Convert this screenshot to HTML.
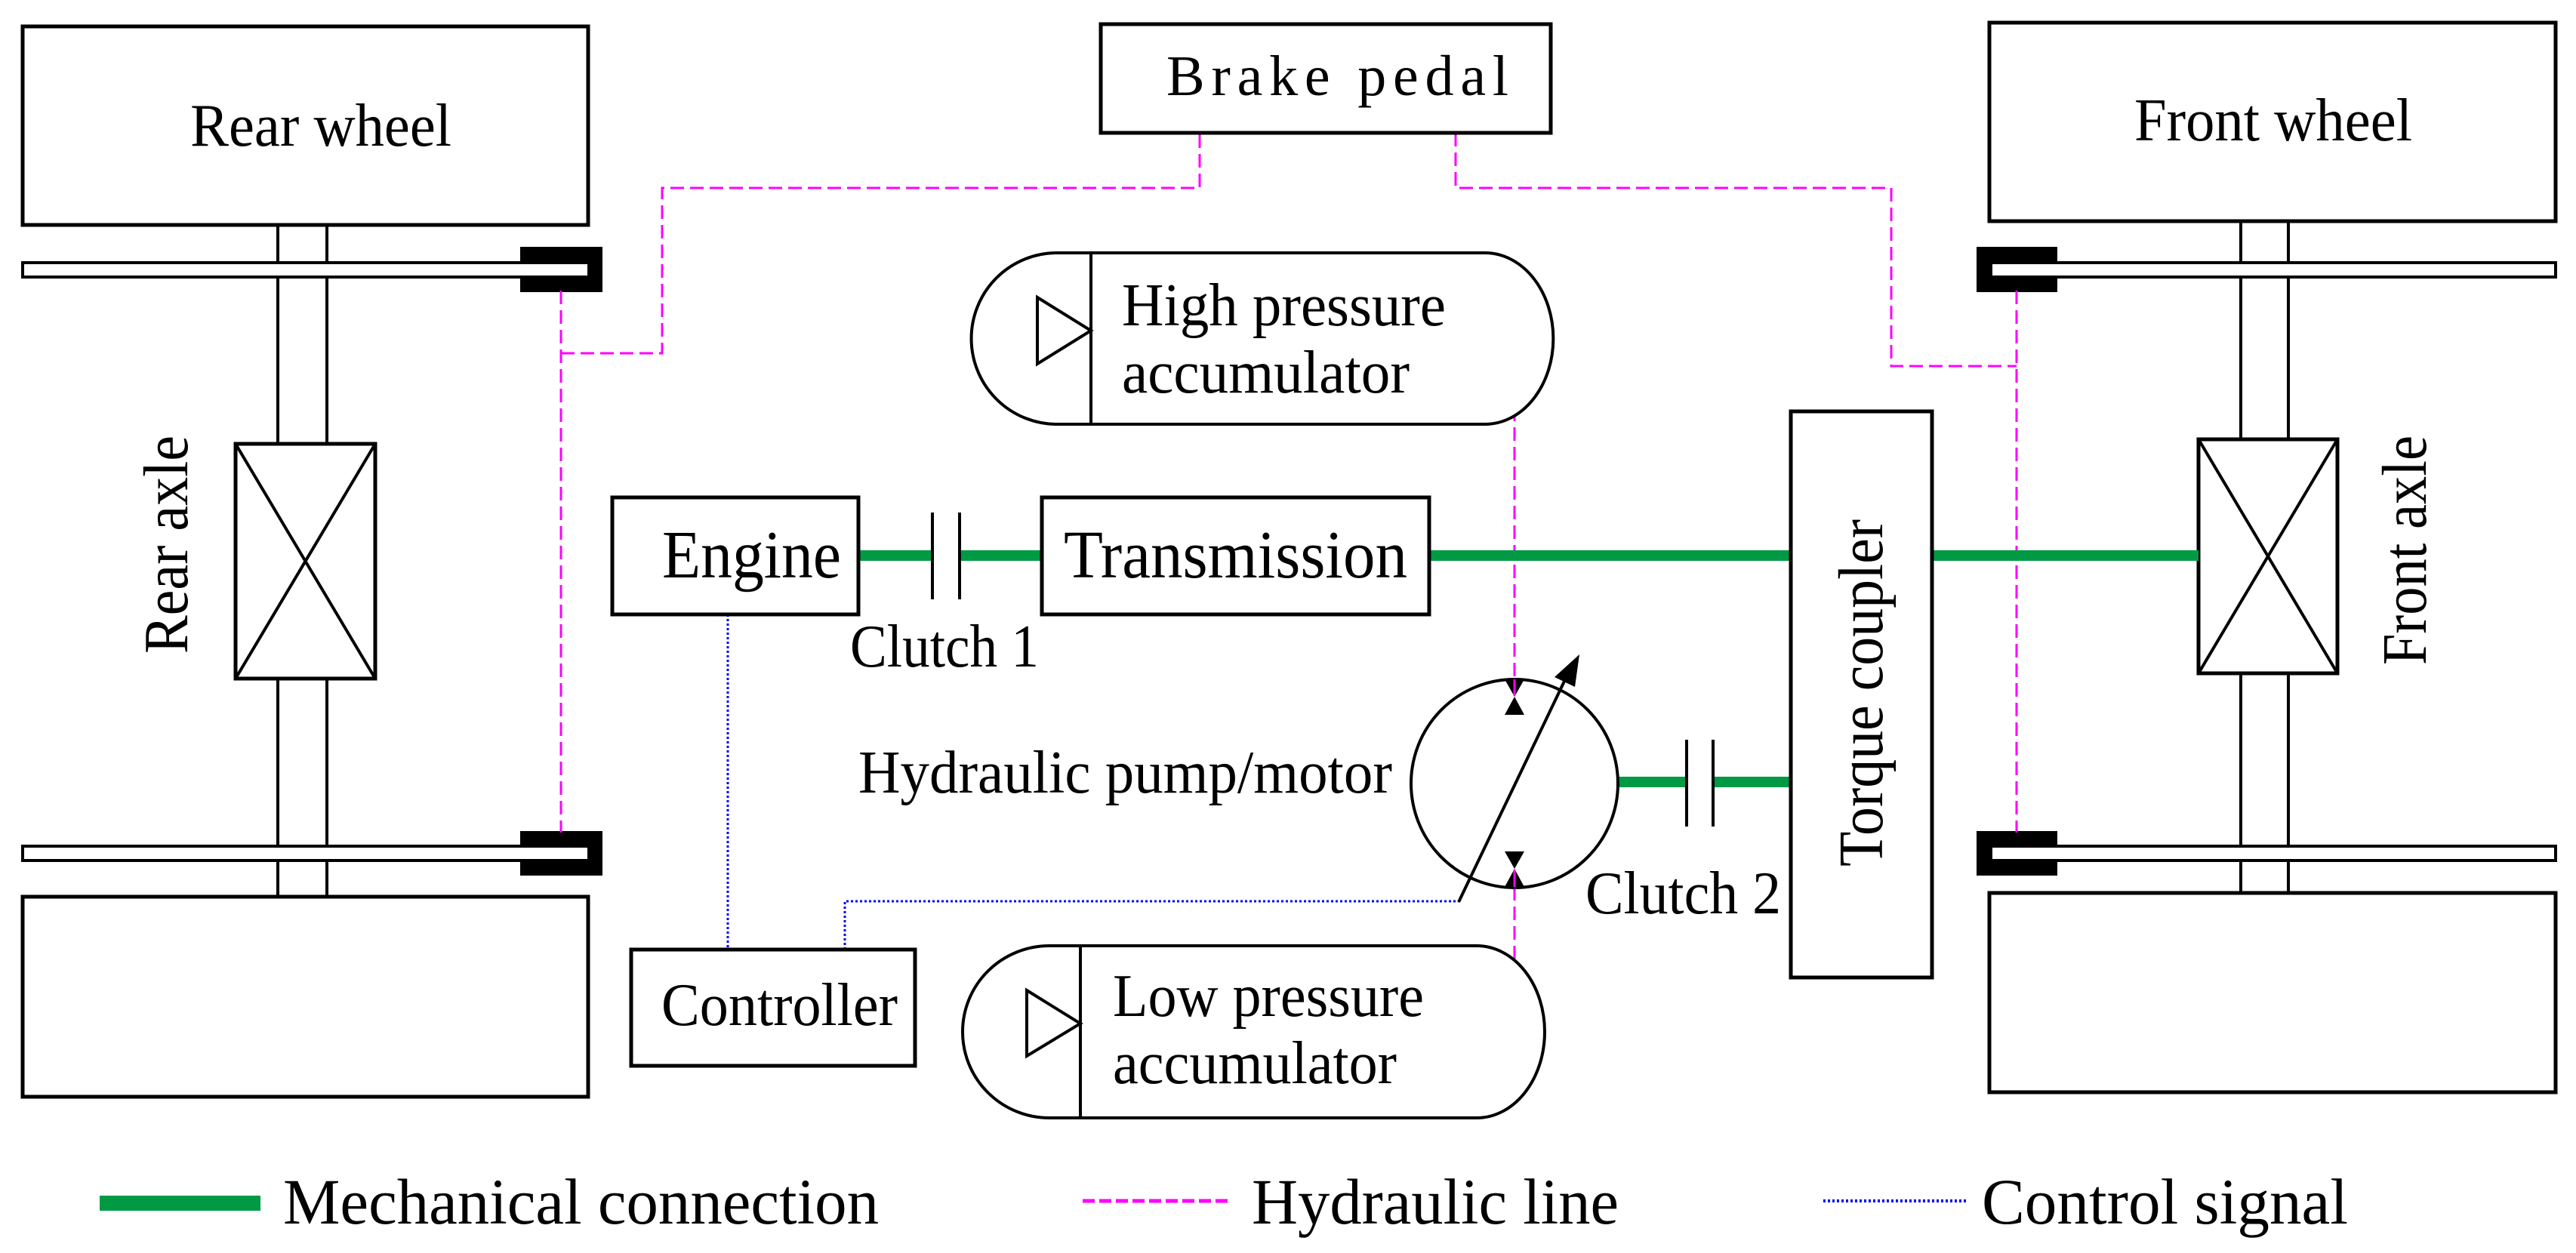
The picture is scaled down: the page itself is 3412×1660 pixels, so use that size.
<!DOCTYPE html>
<html><head><meta charset="utf-8"><style>
html,body{margin:0;padding:0;background:#fff;}
svg{display:block;}
text{font-family:"Liberation Serif",serif;fill:#000;}
</style></head><body>
<svg width="3412" height="1660" viewBox="0 0 3412 1660" xmlns="http://www.w3.org/2000/svg">
<rect width="3412" height="1660" fill="#fff"/>
<g fill="none" stroke="#000" stroke-width="5">
<rect x="30" y="35" width="749" height="263"/>
<rect x="30" y="1188" width="749" height="265"/>
<line x1="368" y1="298" x2="368" y2="588" stroke-width="4"/>
<line x1="433" y1="298" x2="433" y2="588" stroke-width="4"/>
<line x1="368" y1="899" x2="368" y2="1188" stroke-width="4"/>
<line x1="433" y1="899" x2="433" y2="1188" stroke-width="4"/>
<rect x="312" y="588" width="185" height="311"/>
<line x1="312" y1="588" x2="497" y2="899" stroke-width="4"/>
<line x1="497" y1="588" x2="312" y2="899" stroke-width="4"/>
<rect x="2635" y="30" width="750" height="263"/>
<rect x="2635" y="1183" width="750" height="264"/>
<line x1="2968" y1="293" x2="2968" y2="582" stroke-width="4"/>
<line x1="3031" y1="293" x2="3031" y2="582" stroke-width="4"/>
<line x1="2968" y1="892" x2="2968" y2="1183" stroke-width="4"/>
<line x1="3031" y1="892" x2="3031" y2="1183" stroke-width="4"/>
<rect x="2912" y="582" width="184" height="310"/>
<line x1="2912" y1="582" x2="3096" y2="892" stroke-width="4"/>
<line x1="3096" y1="582" x2="2912" y2="892" stroke-width="4"/>
</g>
<g stroke="#000" stroke-width="4">
<rect x="691" y="329" width="105" height="56" fill="#000"/>
<rect x="30" y="348" width="750" height="19" fill="#fff"/>
<rect x="691" y="1103" width="105" height="55" fill="#000"/>
<rect x="30" y="1121" width="750" height="19" fill="#fff"/>
<rect x="2620" y="329" width="103" height="56" fill="#000"/>
<rect x="2637" y="348" width="748" height="19" fill="#fff"/>
<rect x="2620" y="1103" width="103" height="55" fill="#000"/>
<rect x="2637" y="1121" width="748" height="19" fill="#fff"/>
</g>
<g fill="none" stroke="#ff00ff" stroke-width="3" stroke-dasharray="18,8">
<polyline points="743,385 743,1103"/>
<polyline points="743,468 877,468 877,249 1589,249 1589,176"/>
<polyline points="1928,176 1928,249 2505,249 2505,485 2671,485"/>
<polyline points="2671,385 2671,1103"/>
<polyline points="1967,449 2006,449 2006,900"/>
<polyline points="2006,1175 2006,1367 1956,1367"/>
</g>
<g fill="none" stroke="#0000ff" stroke-width="3" stroke-dasharray="3,3">
<polyline points="964,814 964,1258"/>
<polyline points="1119,1258 1119,1194 1932,1194"/>
</g>
<g stroke="#009a44" stroke-width="14">
<line x1="1137" y1="736" x2="1235" y2="736"/>
<line x1="1271" y1="736" x2="1380" y2="736"/>
<line x1="1893" y1="736" x2="2372" y2="736"/>
<line x1="2559" y1="736" x2="2912" y2="736"/>
<line x1="2143" y1="1036" x2="2234" y2="1036"/>
<line x1="2269" y1="1036" x2="2372" y2="1036"/>
</g>
<g fill="#fff" stroke="#000" stroke-width="5">
<rect x="1458" y="32" width="596" height="144"/>
<rect x="811" y="659" width="326" height="155"/>
<rect x="1380" y="659" width="513" height="155"/>
<rect x="2372" y="545" width="187" height="750"/>
<rect x="836" y="1258" width="376" height="154"/>
<path d="M1400,335 H1967 A90,113 0 0 1 1967,562 H1400 A113,113 0 0 1 1400,335 Z" stroke-width="4"/>
<path d="M1390,1253 H1956 A90,114 0 0 1 1956,1481 H1390 A115,114 0 0 1 1390,1253 Z" stroke-width="4"/>
</g>
<g fill="none" stroke="#000" stroke-width="4">
<line x1="1445" y1="335" x2="1445" y2="562"/>
<polygon points="1374,394 1445,438 1374,482"/>
<line x1="1431" y1="1253" x2="1431" y2="1481"/>
<polygon points="1360,1312 1431,1356 1360,1399"/>
<line x1="1235" y1="679" x2="1235" y2="794"/>
<line x1="1271" y1="679" x2="1271" y2="794"/>
<line x1="2234" y1="980" x2="2234" y2="1095"/>
<line x1="2269" y1="980" x2="2269" y2="1095"/>
<ellipse cx="2006" cy="1038" rx="137" ry="138"/>
<line x1="1932" y1="1195" x2="2078" y2="890"/>
</g>
<polygon points="2092,867 2059,897 2086,910" fill="#000"/>
<polygon points="1993,900 2019,900 2006,923 2019,947 1993,947 2006,923" fill="#000"/>
<polygon points="1993,1128 2019,1128 2006,1151 2019,1175 1993,1175 2006,1151" fill="#000"/>
<line x1="2006" y1="900" x2="2006" y2="922" stroke="#ff00ff" stroke-width="3"/>
<line x1="2006" y1="1152" x2="2006" y2="1175" stroke="#ff00ff" stroke-width="3"/>
<g font-size="80">
<text x="252" y="193" textLength="346" lengthAdjust="spacingAndGlyphs">Rear wheel</text>
<text x="2827" y="186" textLength="368" lengthAdjust="spacingAndGlyphs">Front wheel</text>
<text x="1545" y="126" font-size="76" textLength="453" lengthAdjust="spacing">Brake  pedal</text>
<text x="1486" y="431" textLength="429" lengthAdjust="spacingAndGlyphs">High pressure</text>
<text x="1486" y="520" textLength="381" lengthAdjust="spacingAndGlyphs">accumulator</text>
<text x="877" y="765" font-size="90" textLength="237" lengthAdjust="spacingAndGlyphs">Engine</text>
<text x="1409" y="765" font-size="90" textLength="455" lengthAdjust="spacingAndGlyphs">Transmission</text>
<text x="1126" y="883" textLength="250" lengthAdjust="spacingAndGlyphs">Clutch 1</text>
<text x="1137" y="1050" textLength="707" lengthAdjust="spacingAndGlyphs">Hydraulic pump/motor</text>
<text x="2100" y="1210" textLength="259" lengthAdjust="spacingAndGlyphs">Clutch 2</text>
<text x="876" y="1358" textLength="313" lengthAdjust="spacingAndGlyphs">Controller</text>
<text x="1474" y="1346" textLength="412" lengthAdjust="spacingAndGlyphs">Low pressure</text>
<text x="1474" y="1435" textLength="376" lengthAdjust="spacingAndGlyphs">accumulator</text>
<text transform="translate(248,866) rotate(-90)" font-size="84" textLength="289" lengthAdjust="spacingAndGlyphs">Rear axle</text>
<text transform="translate(3213,881) rotate(-90)" font-size="84" textLength="304" lengthAdjust="spacingAndGlyphs">Front axle</text>
<text transform="translate(2493,1148) rotate(-90)" font-size="84" textLength="460" lengthAdjust="spacingAndGlyphs">Torque coupler</text>
<text x="375" y="1621" font-size="86" textLength="789" lengthAdjust="spacingAndGlyphs">Mechanical connection</text>
<text x="1658" y="1621" font-size="86" textLength="486" lengthAdjust="spacingAndGlyphs">Hydraulic line</text>
<text x="2625" y="1621" font-size="86" textLength="485" lengthAdjust="spacingAndGlyphs">Control signal</text>
</g>
<rect x="132" y="1584" width="213" height="20" fill="#009a44"/>
<line x1="1434" y1="1591" x2="1630" y2="1591" stroke="#ff00ff" stroke-width="5" stroke-dasharray="16,6"/>
<line x1="2415" y1="1591" x2="2605" y2="1591" stroke="#0000ff" stroke-width="4" stroke-dasharray="3,3"/>
</svg>
</body></html>
